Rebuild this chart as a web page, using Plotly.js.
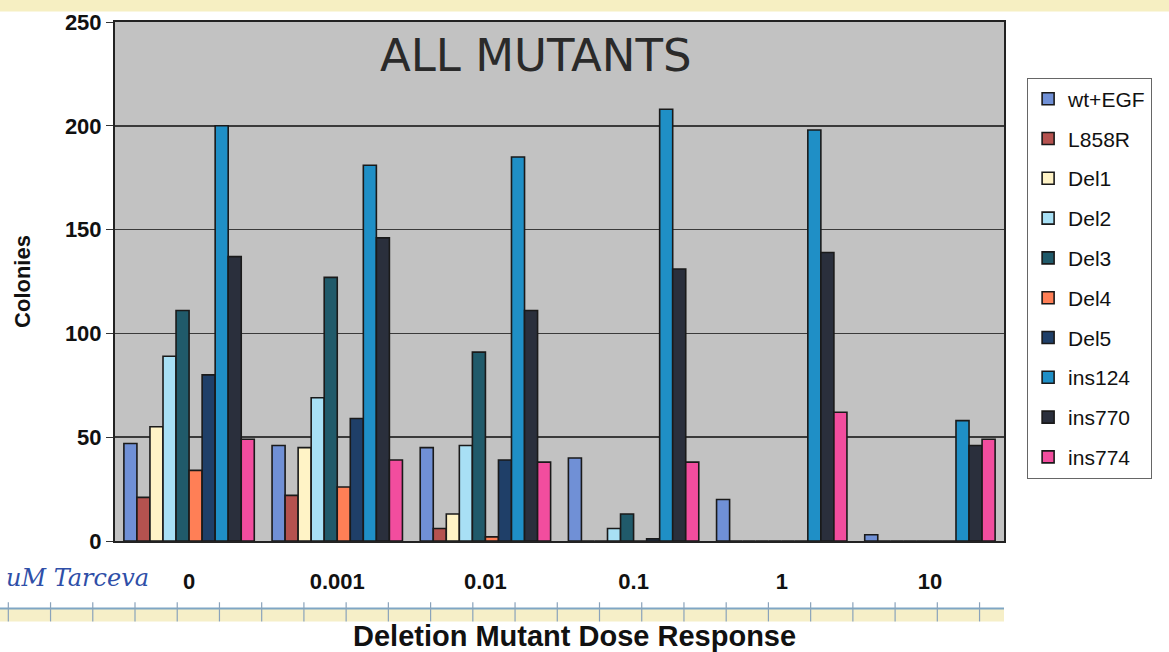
<!DOCTYPE html>
<html>
<head>
<meta charset="utf-8">
<script src="https://cdn.plot.ly/plotly-3.0.1.min.js"></script>
<style>
  html, body { margin: 0; padding: 0; background: #ffffff; }
  #chart { width: 1169px; height: 652px; }
</style>
</head>
<body>
<div id="chart"></div>
<script>
// Categories (µM Tarceva dose)
const doses = ["0", "0.001", "0.01", "0.1", "1", "10"];

// Series names
const seriesNames = ["wt+EGF", "L858R", "Del1", "Del2", "Del3", "Del4", "Del5", "ins124", "ins770", "ins774"];

// Colony counts per series
const wtEGF  = [47, 46, 45, 40, 20, 3];
const L858R  = [21, 22, 6, 0, 0, 0];
const Del1   = [55, 45, 13, 0, 0, 0];
const Del2   = [89, 69, 46, 6, 0, 0];
const Del3   = [111, 127, 91, 13, 0, 0];
const Del4   = [34, 26, 2, 0, 0, 0];
const Del5   = [80, 59, 39, 1, 0, 0];
const ins124 = [200, 181, 185, 208, 198, 58];
const ins770 = [137, 146, 111, 131, 139, 46];
const ins774 = [49, 39, 38, 38, 62, 49];

const seriesValues = [wtEGF, L858R, Del1, Del2, Del3, Del4, Del5, ins124, ins770, ins774];

const seriesColors = ["#7090d6", "#b5524f", "#fff3c6", "#a8e0f5", "#205a6a", "#ff7f56", "#1f3f68", "#1f8fc6", "#2a2f3c", "#f24d9e"];

const traces = seriesNames.map((name, i) => ({
  type: "bar",
  name: name,
  legendgroup: name,
  x: doses,
  y: seriesValues[i],
  marker: { color: seriesColors[i], line: { color: "#1a1a1a", width: 1.6 } },
  hoverinfo: "x+y+name"
}));

// Notebook-paper decorations
const shapes = [
  { type: "rect", xref: "paper", yref: "paper", x0: -0.2, x1: 1.2, y0: 1.02, y1: 1.06, fillcolor: "#f6efc2", line: { width: 0 }, layer: "below" },
  { type: "rect", xref: "paper", yref: "paper", x0: -0.2, x1: 1.0, y0: -0.155, y1: -0.13, fillcolor: "#f6efc8", line: { width: 0 }, layer: "below" },
  { type: "line", xref: "paper", yref: "paper", x0: -0.13, x1: 1.0, y0: -0.13, y1: -0.13, line: { color: "#7fa6c4", width: 2 } }
];
for (let k = 0; k < 24; k++) {
  const xp = -0.12 + k * 0.0475;
  if (xp > 1.02) break;
  shapes.push({ type: "line", xref: "paper", yref: "paper", x0: xp, x1: xp, y0: -0.118, y1: -0.155, line: { color: "#8aa3bb", width: 1.2 } });
}

const layout = {
  width: 1169,
  height: 652,
  margin: { l: 115, r: 165, t: 22, b: 111 },
  paper_bgcolor: "#ffffff",
  plot_bgcolor: "#c2c2c2",
  barmode: "group",
  bargap: 0.12,
  bargroupgap: 0,
  font: { family: "Arial, 'Liberation Sans', sans-serif", color: "#111111" },
  xaxis: {
    type: "category",
    tickfont: { size: 22, weight: "bold", color: "#111" },
    ticks: "",
    ticklabelstandoff: 20,
    showline: true,
    linecolor: "#222",
    linewidth: 2,
    mirror: true,
    showgrid: false
  },
  yaxis: {
    range: [0, 250],
    dtick: 50,
    tickfont: { size: 22, weight: "bold", color: "#111" },
    ticks: "outside",
    ticklen: 7,
    tickcolor: "#333",
    showline: true,
    linecolor: "#222",
    linewidth: 2,
    mirror: true,
    showgrid: true,
    gridcolor: "#3a3a3a",
    gridwidth: 1.5,
    zeroline: false,
    title: { text: "Colonies", font: { size: 22, weight: "bold", color: "#111" }, standoff: 28 }
  },
  legend: {
    x: 1.026,
    y: 0.893,
    xanchor: "left",
    yanchor: "top",
    bgcolor: "#ffffff",
    bordercolor: "#666",
    borderwidth: 1,
    font: { size: 21, color: "#111" },
    traceorder: "grouped",
    tracegroupgap: 9.5,
    itemwidth: 30
  },
  shapes: shapes,
  annotations: [
    { text: "ALL MUTANTS", xref: "paper", yref: "paper", x: 0.473, y: 0.936, yanchor: "middle", showarrow: false,
      font: { family: "DejaVu Sans, sans-serif", size: 45, color: "#2a2a2a" } },
    { text: "uM Tarceva", xref: "paper", yref: "paper", x: -0.125, y: -0.071, xanchor: "left", yanchor: "middle", showarrow: false,
      font: { family: "DejaVu Serif, serif", size: 24, color: "#2f4fa8", style: "italic" } },
    { text: "Deletion Mutant Dose Response", xref: "paper", yref: "paper", x: 0.517, y: -0.183, yanchor: "middle", showarrow: false,
      font: { size: 29, weight: "bold", color: "#111" } }
  ]
};

Plotly.newPlot("chart", traces, layout, { displayModeBar: false, staticPlot: true });
</script>
</body>
</html>
